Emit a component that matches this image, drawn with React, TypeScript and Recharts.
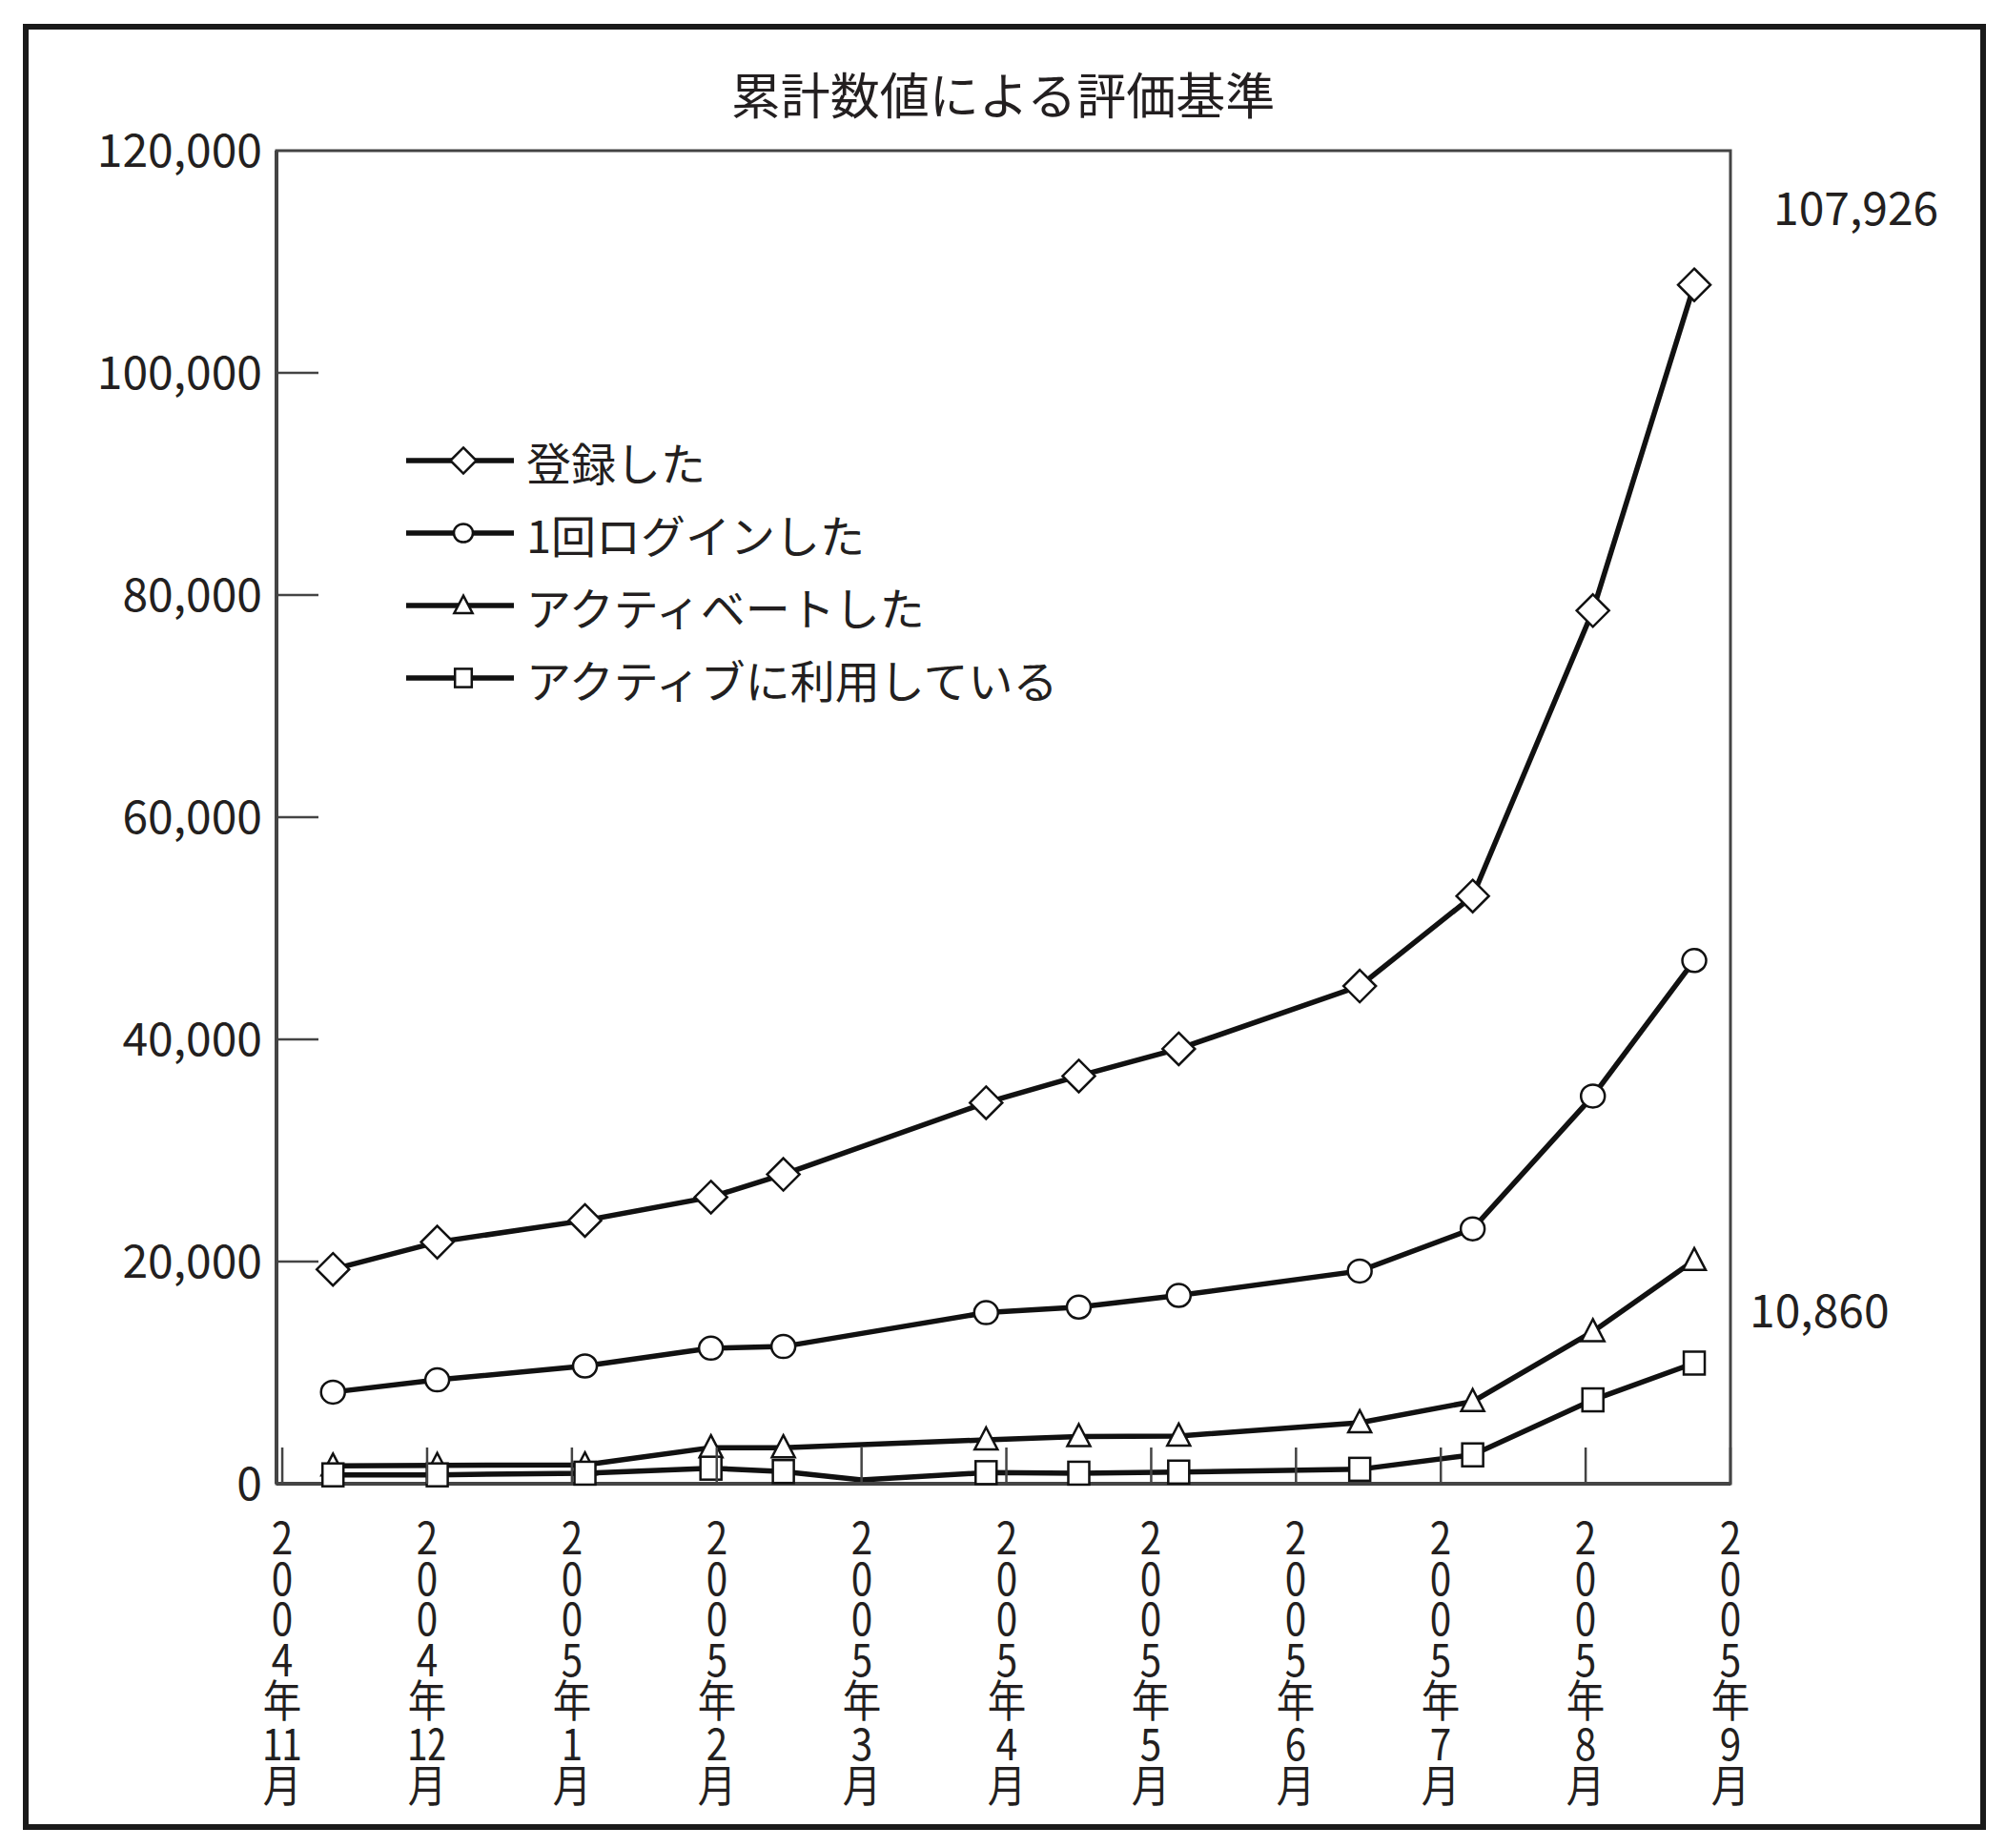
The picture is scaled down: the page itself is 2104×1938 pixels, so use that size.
import React from "react";
import { LineChart, Line, XAxis, YAxis, Legend, ReferenceArea, LabelList } from "recharts";

// months since 2004年11月 (data points fall between month ticks)
const months = [0.35, 1.07, 2.09, 2.96, 3.46, 4.0, 4.86, 5.5, 6.19, 7.44, 8.22, 9.05, 9.75];
const registered = [19300, 21750, 23700, 25800, 27850, null, 34300, 36700, 39150, 44800, 52900, 78600, 107926];
const loggedOnce = [8250, 9350, 10600, 12200, 12350, null, 15400, 15900, 16950, 19150, 22950, 34900, 47100];
const activated = [1600, 1650, 1700, 3250, 3250, null, 3950, 4250, 4300, 5500, 7400, 13700, 20100];
const activeUse = [800, 800, 950, 1400, 1100, 350, 1000, 950, 1050, 1300, 2600, 7550, 10860];
const unmarked = [5]; // activeUse point without a marker

const monthTicks = [0, 1, 2, 3, 4, 5, 6, 7, 8, 9, 10];
const monthLabels = [
  "2004年11月", "2004年12月", "2005年1月", "2005年2月", "2005年3月", "2005年4月",
  "2005年5月", "2005年6月", "2005年7月", "2005年8月", "2005年9月",
];
const yTicks = [0, 20000, 40000, 60000, 80000, 100000, 120000];

const series = [
  { key: "registered", name: "登録した", shape: "diamond" },
  { key: "loggedOnce", name: "1回ログインした", shape: "circle" },
  { key: "activated", name: "アクティベートした", shape: "triangle" },
  { key: "activeUse", name: "アクティブに利用している", shape: "square" },
];

const data = months.map((m, i) => ({
  month: m,
  registered: registered[i],
  loggedOnce: loggedOnce[i],
  activated: activated[i],
  activeUse: activeUse[i],
}));

const FONT = "'Noto Sans CJK JP', 'Noto Sans', sans-serif";
const INK = "#111";
const AXIS = "#444";
const TEXT = "#231f20";

function marker(shape: string, cx: number, cy: number, s: number, key?: any) {
  const common = { fill: "#fff", stroke: INK, strokeWidth: 2.5 };
  if (shape === "diamond") {
    const r = 17 * s;
    return <polygon key={key} {...common} points={`${cx},${cy - r} ${cx + r},${cy} ${cx},${cy + r} ${cx - r},${cy}`} />;
  }
  if (shape === "circle") {
    return <ellipse key={key} {...common} cx={cx} cy={cy} rx={12.5 * s} ry={12 * s} />;
  }
  if (shape === "triangle") {
    return (
      <polygon key={key} {...common}
        points={`${cx},${cy - 13 * s} ${cx + 12 * s},${cy + 10 * s} ${cx - 12 * s},${cy + 10 * s}`} />
    );
  }
  return <rect key={key} {...common} x={cx - 11 * s} y={cy - 12 * s} width={22 * s} height={24 * s} />;
}

const makeDot = (shape: string, key: string) => (props: any) => {
  const { cx, cy, index, value } = props;
  const k = `${key}-${index}`;
  if (value == null || cx == null || cy == null) return <g key={k} />;
  if (key === "activeUse" && unmarked.includes(index)) return <g key={k} />;
  return marker(shape, cx, cy, 1, k);
};

// vertical month label (2 / 0 / 0 / 4 / 年 / 11 / 月) written top to bottom
const XTick = (props: any) => {
  const { x, y, payload } = props;
  const label: string = monthLabels[monthTicks.indexOf(payload.value)] ?? "";
  const year = label.slice(0, 4);
  const mon = label.slice(5, label.length - 1);
  return (
    <g>
      <line x1={x} y1={y} x2={x} y2={y - 38} stroke={AXIS} strokeWidth={2.5} />
      <foreignObject x={x - 40} y={y + 34} width={80} height={340}>
        <div
          style={{
            writingMode: "vertical-rl", textOrientation: "upright", fontFamily: FONT,
            fontSize: 46, lineHeight: "80px", letterSpacing: -3.5, color: TEXT,
            height: 340, width: 80, transform: "scaleX(0.88)",
          }}
        >
          {year}年<span style={{ textCombineUpright: "all" } as any}>{mon}</span>月
        </div>
      </foreignObject>
    </g>
  );
};

const YTick = (props: any) => {
  const { x, y, payload } = props;
  return (
    <g>
      {payload.value > 0 && payload.value < 120000 && (
        <line x1={x} y1={y} x2={x + 44} y2={y} stroke={AXIS} strokeWidth={2.5} />
      )}
      <text x={x - 15} y={y + 17} textAnchor="end" fontFamily={FONT} fontSize={48} fill={TEXT}>
        {payload.value.toLocaleString("en-US")}
      </text>
    </g>
  );
};

const endLabel = (dx: number, dy: number) => (props: any) => {
  const { x, y, value, index } = props;
  if (index !== months.length - 1) return null;
  return (
    <text x={x + dx} y={y + dy} fontFamily={FONT} fontSize={48} fill={TEXT}>
      {Number(value).toLocaleString("en-US")}
    </text>
  );
};

const renderLegend = () => (
  <div>
    {series.map((s) => (
      <div key={s.key} style={{ display: "flex", alignItems: "center", height: 76 }}>
        <svg width={126} height={40} style={{ display: "block" }}>
          <line x1={0} y1={20} x2={113} y2={20} stroke={INK} strokeWidth={5.5} />
          {marker(s.shape, 60, 20, 0.8)}
        </svg>
        <span style={{ fontFamily: FONT, fontSize: 47, lineHeight: 1, color: TEXT, whiteSpace: "nowrap" }}>
          {s.name}
        </span>
      </div>
    ))}
  </div>
);

export default function App() {
  return (
    <div style={{ position: "absolute", left: 0, top: 0, width: 2104, height: 1938, background: "#fff" }}>
      <div
        style={{
          position: "absolute", left: 24, top: 25, width: 2059, height: 1894,
          boxSizing: "border-box", border: "6px solid #1a1a1a",
        }}
      />
      <div
        style={{
          position: "absolute", left: 0, top: 72, width: 2104, textAlign: "center",
          fontFamily: FONT, fontSize: 52, lineHeight: 1, color: TEXT,
        }}
      >
        累計数値による評価基準
      </div>
      <div style={{ position: "absolute", left: 0, top: 0 }}>
        <LineChart width={2104} height={1938} data={data}
          margin={{ top: 158, right: 289, bottom: 381, left: 289 }}>
          <XAxis dataKey="month" type="number" domain={[-0.04, 10]} ticks={monthTicks} interval={0}
            height={1} tickSize={0} tickMargin={0} tickLine={false} allowDataOverflow
            axisLine={{ stroke: AXIS, strokeWidth: 4 }} tick={<XTick />} />
          <YAxis type="number" domain={[0, 120000]} ticks={yTicks} interval={0} width={1}
            tickSize={0} tickMargin={0} tickLine={false}
            axisLine={{ stroke: AXIS, strokeWidth: 4 }} tick={<YTick />} />
          <ReferenceArea x1={-0.04} x2={10} y1={0} y2={120000} fill="none" stroke={AXIS} strokeWidth={3} />
          <Legend layout="vertical" verticalAlign="middle" align="center" content={renderLegend}
            wrapperStyle={{ left: 426, top: 445, width: "auto" }} />
          {series.map((s) => (
            <Line key={s.key} dataKey={s.key} name={s.name} stroke={INK} strokeWidth={5.5}
              connectNulls isAnimationActive={false} dot={makeDot(s.shape, s.key)} activeDot={false}>
              {s.key === "registered" && <LabelList dataKey={s.key} content={endLabel(83, -63)} />}
              {s.key === "activeUse" && <LabelList dataKey={s.key} content={endLabel(58, -37)} />}
            </Line>
          ))}
        </LineChart>
      </div>
    </div>
  );
}
